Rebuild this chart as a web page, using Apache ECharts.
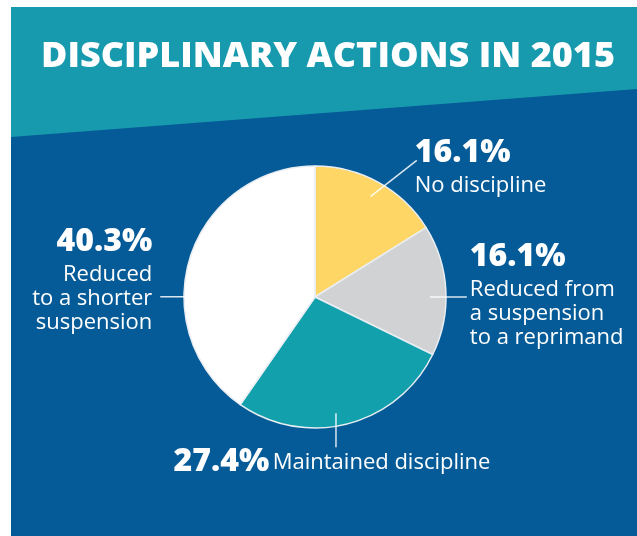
<!DOCTYPE html>
<html style="height: 100%">
   <head>
       <meta charset="utf-8">
   </head>
   <body style="height: 100%; margin: 0; background: #fff">
       <div id="container" style="width: 637px; height: 536px"></div>
       <script type="text/javascript" src="https://cdn.jsdelivr.net/npm/echarts@6/dist/echarts.min.js"></script>
       <script type="text/javascript">
// data
var titleText = 'DISCIPLINARY ACTIONS IN 2015';
var categories = ['No discipline', 'Reduced from\na suspension\nto a reprimand', 'Maintained discipline', 'Reduced\nto a shorter\nsuspension'];
var shares = [16.1, 16.1, 27.4, 40.3];
var sliceColors = ['#fed666', '#d1d2d4', '#13a0ad', '#ffffff'];

// label placement relative to the point where the library starts each label line
var labelLinesOff = [
    [[0, 0], [46, -36]],
    [[0, 6], [37, 6]],
    [[-8, 5], [-8, 39]],
    [[-5, 34], [-45, 34]]
];
var labelOff = [[44, -65, 'left'], [40, -55, 'left'], [-12, 33, 'center'], [-53, -42, 'right']];
var inlineLabel = [false, false, true, false];

var dom = document.getElementById("container");
var myChart = echarts.init(dom);

var pieData = [];
for (var i = 0; i < shares.length; i++) {
    pieData.push({ name: categories[i], value: shares[i], itemStyle: { color: sliceColors[i] } });
}

var option = {
    backgroundColor: '#ffffff',
    animation: false,
    graphic: [
        { type: 'rect', shape: { x: 11, y: 7, width: 626, height: 529 }, style: { fill: '#055b97' }, z: -10 },
        { type: 'polygon', shape: { points: [[11, 7], [637, 7], [637, 89], [11, 137]] }, style: { fill: '#1799ae' }, z: -9 }
    ],
    title: {
        text: titleText,
        left: 328,
        top: 39,
        padding: 0,
        textAlign: 'center',
        textStyle: {
            color: '#ffffff',
            fontFamily: 'Open Sans',
            fontWeight: 800,
            fontSize: 36
        }
    },
    series: [
        {
            type: 'pie',
            center: [315, 297],
            radius: 131,
            startAngle: 90,
            silent: true,
            label: { show: false },
            labelLine: { show: false },
            itemStyle: { borderColor: '#e9eef3', borderWidth: 1.5 },
            data: pieData
        },
        {
            type: 'pie',
            center: [315, 297],
            radius: 115,
            startAngle: 90,
            silent: true,
            z: 5,
            avoidLabelOverlap: false,
            itemStyle: { color: 'rgba(0,0,0,0)', borderWidth: 0 },
            label: {
                show: true,
                position: 'outside',
                bleedMargin: 0,
                formatter: function (p) {
                    var sep = inlineLabel[p.dataIndex] ? ' ' : '\n';
                    return '{p|' + p.value.toFixed(1) + '%}' + sep + '{t|' + p.name + '}';
                },
                rich: {
                    p: { color: '#ffffff', fontFamily: 'Open Sans', fontWeight: 800, fontSize: 32, lineHeight: 42 },
                    t: { color: '#ffffff', fontFamily: 'Open Sans', fontSize: 22, lineHeight: 24 }
                }
            },
            labelLine: {
                show: true,
                length: 10,
                length2: 10,
                lineStyle: { color: 'rgba(255,255,255,0.85)', width: 1.5 }
            },
            labelLayout: function (params) {
                var i = params.dataIndex;
                var p0 = params.labelLinePoints[0];
                var pts = labelLinesOff[i].map(function (d) { return [p0[0] + d[0], p0[1] + d[1]]; });
                return {
                    x: p0[0] + labelOff[i][0],
                    y: p0[1] + labelOff[i][1],
                    align: labelOff[i][2],
                    verticalAlign: 'top',
                    labelLinePoints: pts
                };
            },
            data: pieData.map(function (d) { return { name: d.name, value: d.value }; })
        }
    ]
};

if (option && typeof option === "object") {
    myChart.setOption(option, true);
}
       </script>
   </body>
</html>
